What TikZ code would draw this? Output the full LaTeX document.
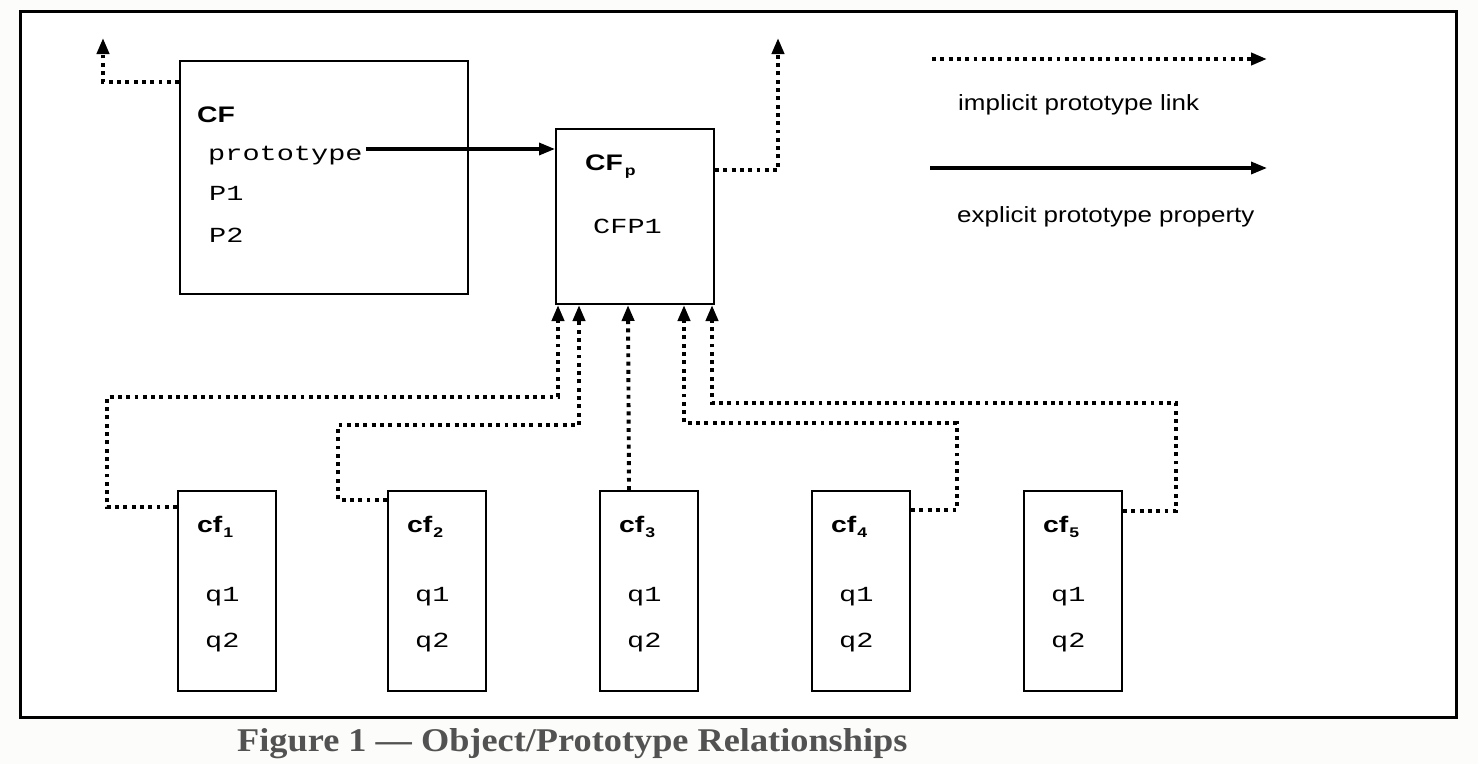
\documentclass[tikz,border=0pt]{standalone}
\usepackage{graphicx}
\usepackage{fontspec}
\setmainfont{Liberation Sans}
\newfontfamily\sansf[FakeStretch=1.26]{Liberation Sans}
\newfontfamily\legf[FakeStretch=1.18]{Liberation Sans}
\newfontfamily\monof[FakeStretch=1.33]{Liberation Mono}
\newfontfamily\capf{Liberation Serif}
\usetikzlibrary{arrows.meta,calc}
\definecolor{bgcol}{HTML}{FCFCFA}
\definecolor{capcol}{HTML}{525252}
\tikzset{
  box/.style={draw=black, line width=2pt, fill=white, inner sep=0pt, anchor=north west},
  lbl/.style={inner sep=0pt, anchor=base west, font=\sansf\bfseries\fontsize{22.5}{26}\selectfont},
  mono/.style={inner sep=0pt, anchor=base west, font=\monof\fontsize{21.5}{25}\selectfont},
  legtxt/.style={inner sep=0pt, anchor=base west, font=\legf\fontsize{22}{25}\selectfont},
  implicit/.style={line width=3.9pt, dash pattern=on 3.9pt off 4.4pt, -{Triangle[length=16pt,width=12pt]}},
  explicit/.style={line width=3.4pt, -{Triangle[length=16pt,width=12pt]}},
}
\begin{document}
\begin{tikzpicture}[x=1pt,y=-1pt]
\fill[bgcol] (0,0) rectangle (1478,764);
\useasboundingbox (0,0) rectangle (1478,764);
% frame
\node[box, line width=2.5pt, minimum width=1436pt, minimum height=706pt] (frame) at (19,10) {};
% CF box
\node[box, minimum width=288pt, minimum height=233pt] (CF) at (179,60) {};
\node[lbl] (CFlbl) at (197,122) {CF};
\node[mono] (proto) at (208,160) {prototype};
\node[mono] (P1) at (209,200) {P1};
\node[mono] (P2) at (209,242) {P2};
% CFp box
\node[box, minimum width=158pt, minimum height=175pt] (CFp) at (555,128) {};
\node[lbl] (CFplbl) at (585,170) {CF\kern2pt\raisebox{-5pt}{\fontsize{14}{14}\selectfont p}};
\node[mono] (CFP1) at (593,233) {CFP1};
% cf boxes
\foreach \i/\x in {1/177,2/387,3/599,4/811,5/1023} {
  \node[box, minimum width=98pt, minimum height=200pt] (cf\i) at (\x,490) {};
  \node[lbl] (cfl\i) at (\x+20,532) {cf\kern1pt\raisebox{-5pt}{\fontsize{14}{14}\selectfont\i}};
  \node[mono] (qa\i) at (\x+28,601) {q1};
  \node[mono] (qb\i) at (\x+28,647) {q2};
}
% free ends
\coordinate (cfup) at (103,38);
\coordinate (cfpup) at (778,38);
% explicit prototype property
\coordinate (ps) at ([xshift=3pt,yshift=11pt]proto.base east);
\draw[explicit] (ps) -- (ps -| CFp.west);
% implicit links upward
\draw[implicit] ([yshift=-22pt]CF.north west) -| (cfup);
\draw[implicit] ([yshift=-42pt]CFp.north east) -| (cfpup);
% implicit links from cf boxes
\draw[implicit] ([yshift=-17pt]cf1.north west) -| (107,397) -| ([xshift=3pt]CFp.south west);
\draw[implicit] ([yshift=-10pt]cf2.north west) -| (338,425) -| ([xshift=24pt]CFp.south west);
\draw[implicit] ([xshift=-20pt]cf3.north) -- ([xshift=73pt]CFp.south west);
\draw[implicit] ([yshift=-20pt]cf4.north east) -| (957,423) -| ([xshift=129pt]CFp.south west);
\draw[implicit] ([yshift=-21pt]cf5.north east) -| (1176,403) -| ([xshift=-3pt]CFp.south east);
% legend
\coordinate (l1s) at (932,59);
\coordinate (l1e) at (1267,59);
\coordinate (l2s) at (930,168);
\coordinate (l2e) at (1267,168);
\draw[implicit] (l1s) -- (l1e);
\node[legtxt] (impl) at (958,110) {implicit prototype link};
\draw[explicit] (l2s) -- (l2e);
\node[legtxt] (expl) at (957,222) {explicit prototype property};
% caption
\node[inner sep=0pt, anchor=base west, text=capcol] (cap) at (237,751)
  {\resizebox{670pt}{23pt}{\capf\bfseries Figure 1 — Object/Prototype Relationships}};
\end{tikzpicture}
\end{document}
